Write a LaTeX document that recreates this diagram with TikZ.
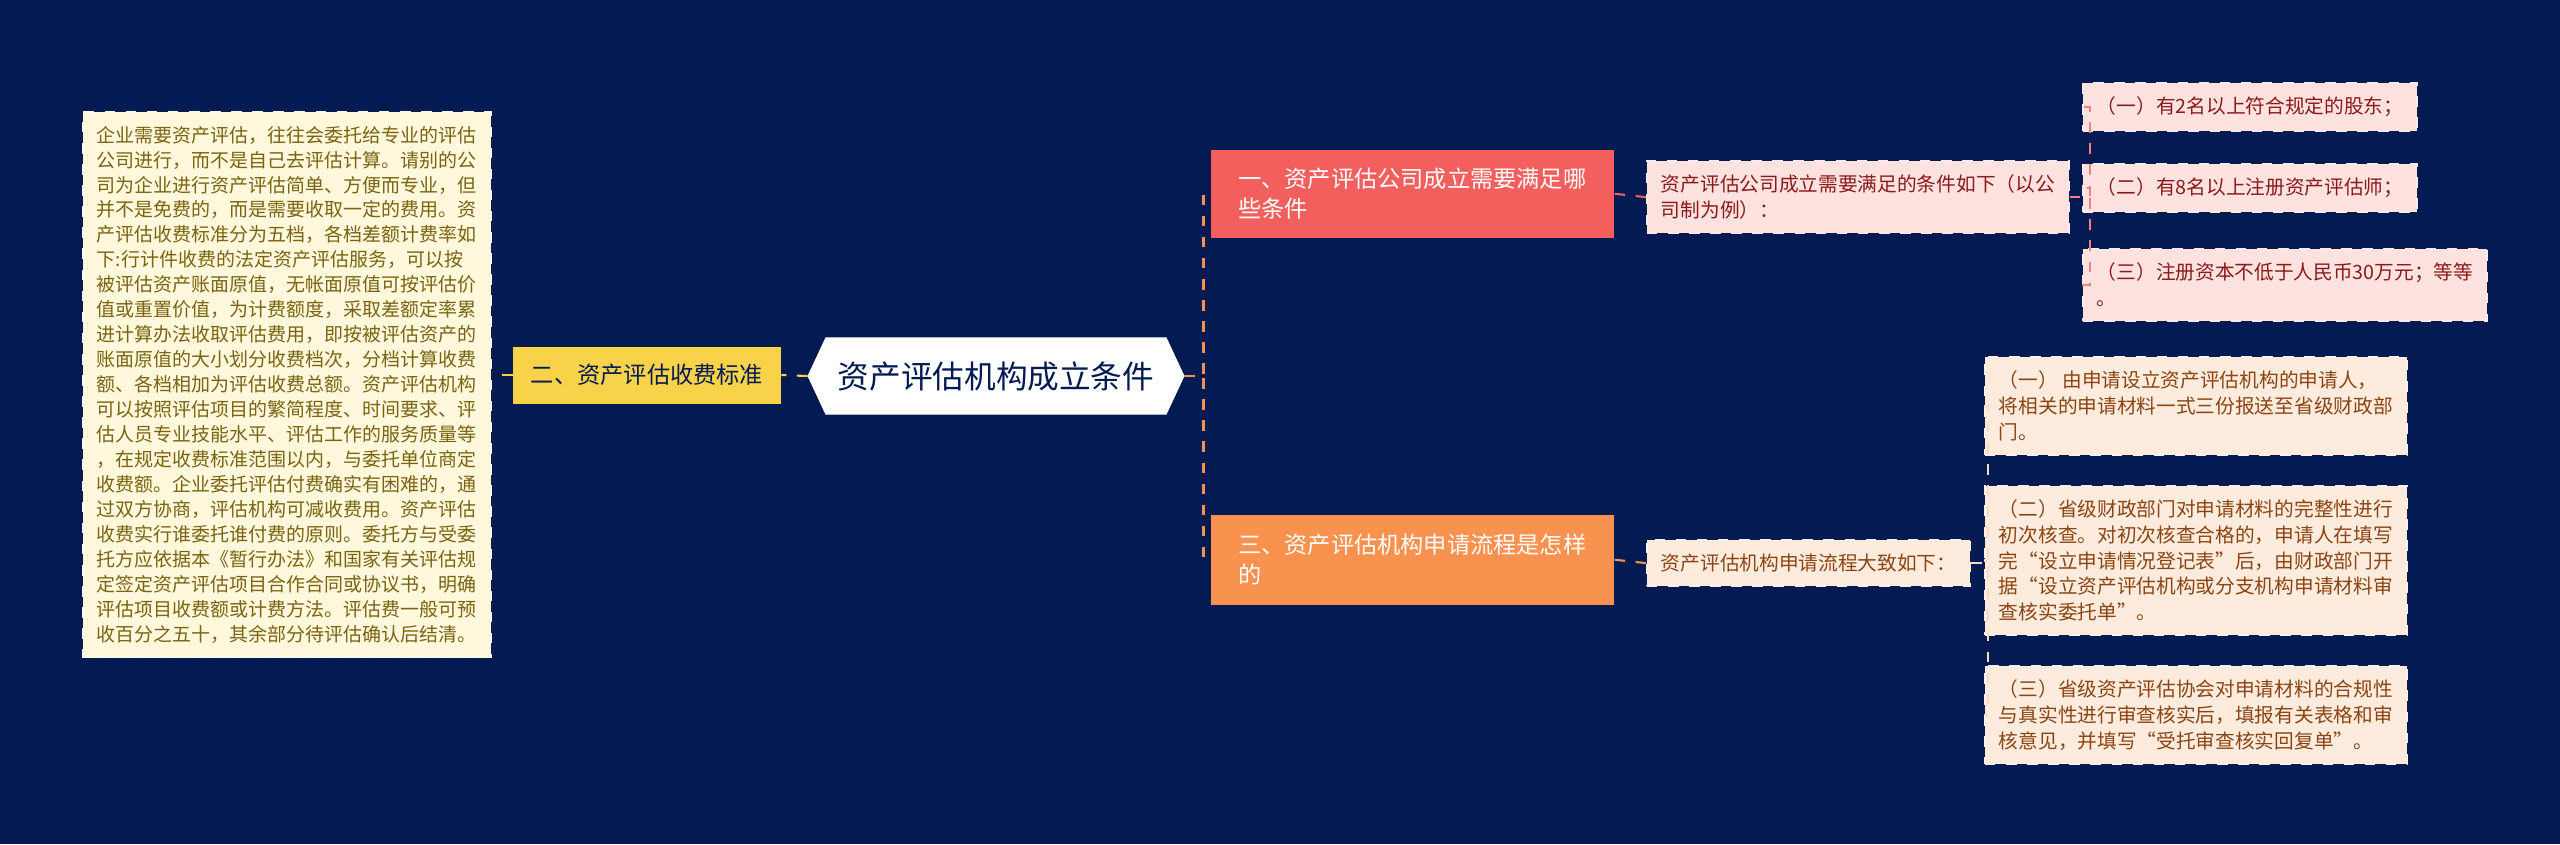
\documentclass[tikz,border=0pt]{standalone}
\usepackage{fontspec}
\setmainfont{Noto Sans CJK SC}
\usetikzlibrary{shapes.symbols}
\definecolor{bgnavy}{HTML}{041A52}
\definecolor{notefill}{HTML}{FFF8DC}
\definecolor{notetext}{HTML}{7A6410}
\definecolor{feeyellow}{HTML}{F8D349}
\definecolor{condred}{HTML}{F25F5C}
\definecolor{flowor}{HTML}{F9914F}
\definecolor{pinkfill}{HTML}{FDE2E0}
\definecolor{pinktext}{HTML}{8B1A1A}
\definecolor{peachfill}{HTML}{FDEBDD}
\definecolor{peachtext}{HTML}{8B4513}
\tikzset{
  box/.style={draw=#1!70!white, dashed, line width=0.5pt, inner sep=4pt, align=left, anchor=north west},
  note/.style={box=notefill, fill=notefill, text=notetext, font=\fontsize{5.4}{7.1}\selectfont},
  branch/.style={anchor=north west, inner sep=5pt, align=left, minimum width=#1, font=\fontsize{6.6}{8.5}\selectfont},
  pinkleaf/.style={box=pinkfill, fill=pinkfill, text=pinktext, font=\fontsize{5.6}{7.3}\selectfont},
  peachleaf/.style={box=peachfill, fill=peachfill, text=peachtext, font=\fontsize{5.6}{7.3}\selectfont},
  link/.style={dashed, line width=0.6pt, #1},
}
\begin{document}
\begin{tikzpicture}[x=0.01cm,y=-0.01cm]
\fill[bgnavy] (0,0) rectangle (2560,844);
\useasboundingbox (0,0) rectangle (2560,844);

% centre
\node[signal, signal to=west and east, signal pointer angle=130, fill=white, draw=white,
  minimum width=3.55cm, minimum height=0.76cm, text=bgnavy, font=\fontsize{9}{11}\selectfont] (root) at (996,376) {资产评估机构成立条件};

% left side
\node[anchor=center, fill=feeyellow, text=bgnavy, minimum width=2.67cm, minimum height=0.57cm,
  font=\fontsize{6.6}{8}\selectfont] (fee) at (647,375) {二、资产评估收费标准};
\node[note, minimum width=3.96cm, minimum height=5.29cm] (feenote) at (82,111) {企业需要资产评估，往往会委托给专业的评估\\公司进行，而不是自己去评估计算。请别的公\\司为企业进行资产评估简单、方便而专业，但\\并不是免费的，而是需要收取一定的费用。资\\产评估收费标准分为五档，各档差额计费率如\\下:行计件收费的法定资产评估服务，可以按\\被评估资产账面原值，无帐面原值可按评估价\\值或重置价值，为计费额度，采取差额定率累\\进计算办法收取评估费用，即按被评估资产的\\账面原值的大小划分收费档次，分档计算收费\\额、各档相加为评估收费总额。资产评估机构\\可以按照评估项目的繁简程度、时间要求、评\\估人员专业技能水平、评估工作的服务质量等\\，在规定收费标准范围以内，与委托单位商定\\收费额。企业委托评估付费确实有困难的，通\\过双方协商，评估机构可减收费用。资产评估\\收费实行谁委托谁付费的原则。委托方与受委\\托方应依据本《暂行办法》和国家有关评估规\\定签定资产评估项目合作合同或协议书，明确\\评估项目收费额或计费方法。评估费一般可预\\收百分之五十，其余部分待评估确认后结清。};

% right side, first branch
\node[branch=4.03cm, fill=condred, text=white, minimum height=0.88cm] (cond) at (1210,149) {一、资产评估公司成立需要满足哪\\些条件};
\node[pinkleaf, minimum width=4.0cm] (condsum) at (1646,160) {资产评估公司成立需要满足的条件如下（以公\\司制为例）：};
\node[pinkleaf, minimum width=3.12cm, minimum height=0.4cm] (c1) at (2082,82) {（一）有2名以上符合规定的股东；};
\node[pinkleaf, minimum width=3.12cm, minimum height=0.44cm] (c2) at (2082,163) {（二）有8名以上注册资产评估师；};
\node[pinkleaf, minimum width=3.97cm, minimum height=0.67cm] (c3) at (2082,248) {（三）注册资本不低于人民币30万元；等等\\。};

% right side, second branch
\node[branch=4.03cm, fill=flowor, text=white, minimum height=0.9cm] (flow) at (1210,514) {三、资产评估机构申请流程是怎样\\的};
\node[peachleaf, minimum width=3.05cm, minimum height=0.44cm] (flowsum) at (1646,539) {资产评估机构申请流程大致如下：};
\node[peachleaf, minimum width=4.02cm, minimum height=0.93cm] (f1) at (1984,356) {（一） 由申请设立资产评估机构的申请人，\\将相关的申请材料一式三份报送至省级财政部\\门。};
\node[peachleaf, minimum width=4.02cm, minimum height=1.35cm] (f2) at (1984,485) {（二）省级财政部门对申请材料的完整性进行\\初次核查。对初次核查合格的，申请人在填写\\完“设立申请情况登记表”后，由财政部门开\\据“设立资产评估机构或分支机构申请材料审\\查核实委托单”。};
\node[peachleaf, minimum width=4.02cm, minimum height=0.91cm] (f3) at (1984,665) {（三）省级资产评估协会对申请材料的合规性\\与真实性进行审查核实后，填报有关表格和审\\核意见，并填写“受托审查核实回复单”。};

% connectors
\draw[link=feeyellow] (root.west) -- (fee.east);
\draw[link=feeyellow] (fee.west) -- (feenote.east |- fee.west);
\draw[link=flowor] (root.east) -- ++(19,0) |- (cond.west);
\draw[link=flowor] (root.east) -- ++(19,0) |- (flow.west);
\draw[link=condred] (cond.east) -- (condsum.west);
\draw[link=condred!80!white] (condsum.east) -- ++(20,0) |- (c1.west);
\draw[link=condred!80!white] (condsum.east) -- ++(20,0) |- (c2.west);
\draw[link=condred!80!white] (condsum.east) -- ++(20,0) |- (c3.west);
\draw[link=flowor] (flow.east) -- (flowsum.west);
\draw[link=peachfill!80!flowor] (flowsum.east) -- ++(17,0) |- (f1.west);
\draw[link=peachfill!80!flowor] (flowsum.east) -- ++(17,0) |- (f2.west);
\draw[link=peachfill!80!flowor] (flowsum.east) -- ++(17,0) |- (f3.west);
\end{tikzpicture}
\end{document}
